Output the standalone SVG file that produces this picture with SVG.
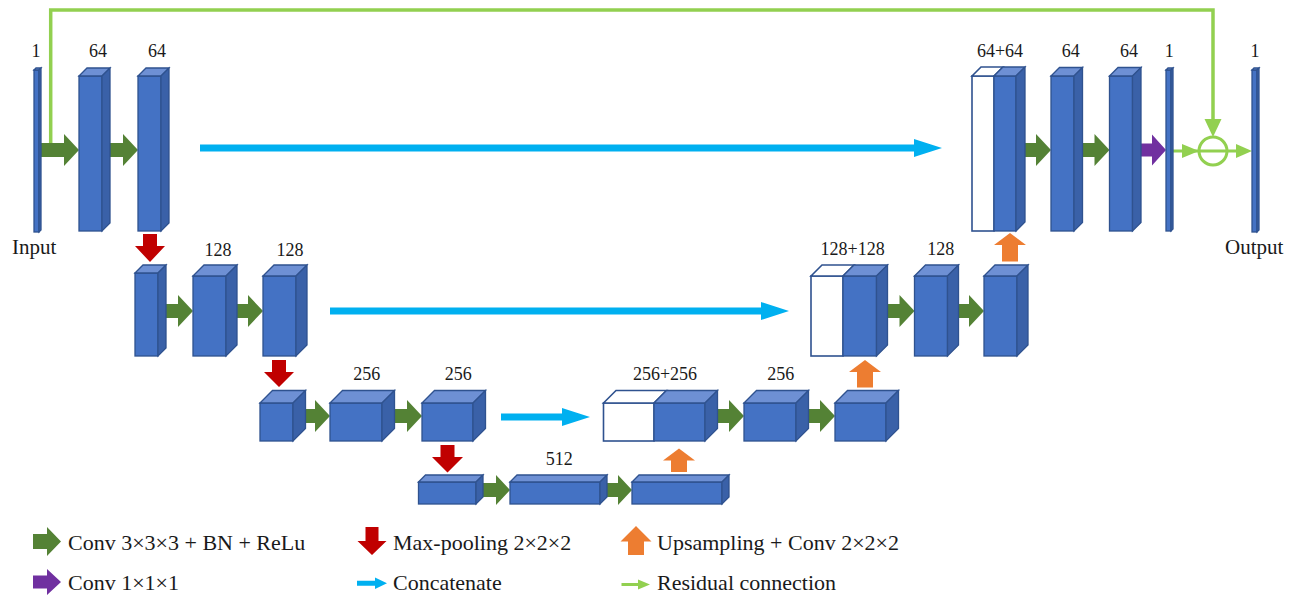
<svg xmlns="http://www.w3.org/2000/svg" width="1295" height="597" viewBox="0 0 1295 597" font-family="'Liberation Serif', 'Times New Roman', 'DejaVu Serif', serif">
<style>
.f{fill:#4472C4;stroke:#2F528F;stroke-width:1.3}
.t{fill:#6E90D4;stroke:#2F528F;stroke-width:1.3}
.s{fill:#3A61A8;stroke:#2F528F;stroke-width:1.3}
.w{fill:#FFFFFF;stroke:#2F528F;stroke-width:1.6}
.g{fill:#548235}
.r{fill:#C00000}
.o{fill:#ED7D31}
.p{fill:#7030A0}
.c{fill:#00B0F0}
.lg{fill:#92D050}
.res{fill:none;stroke:#92D050;stroke-width:3.5}
.lab{font-family:'Liberation Serif','Times New Roman','DejaVu Serif',serif;font-size:18px;text-anchor:middle;fill:#1A1A1A}
.io{font-family:'Liberation Serif','Times New Roman','DejaVu Serif',serif;font-size:21px;fill:#1A1A1A}
.leg{font-family:'Liberation Serif','Times New Roman','DejaVu Serif',serif;font-size:22px;fill:#1A1A1A}
</style>

<g id="connectors">
  <polyline class="res" points="50.7,146 50.7,10 1213,10 1213,120"/>
  <polygon class="lg" points="1204.5,119 1221.5,119 1213,137"/>
  <line x1="1173" y1="151" x2="1240" y2="151" stroke="#92D050" stroke-width="3"/>
  <polygon class="lg" points="1182,144 1199,151 1182,158"/>
  <polygon class="lg" points="1236,144 1252,151 1236,158"/>
  <circle cx="1213" cy="151" r="14" fill="none" stroke="#92D050" stroke-width="3"/>

  <path class="g" d="M39,143 H64 V134 L79,150 L64,166 V157 H39 Z"/>
  <path class="g" d="M110,143 H123 V134 L138,150 L123,166 V157 H110 Z"/>
  <path class="g" d="M1025,143 H1036 V134 L1051,150 L1036,166 V157 H1025 Z"/>
  <path class="g" d="M1082.5,143 H1094.5 V134 L1109.5,150 L1094.5,166 V157 H1082.5 Z"/>
  <path class="p" d="M1141,143.5 H1152 V134.5 L1166,150 L1152,165.5 V156.5 H1141 Z"/>

  <path class="g" d="M166,304 H178 V295 L193,311 L178,327 V318 H166 Z"/>
  <path class="g" d="M237,304 H248 V295 L263,311 L248,327 V318 H237 Z"/>
  <path class="g" d="M887.5,304 H899.5 V295 L914.5,311 L899.5,327 V318 H887.5 Z"/>
  <path class="g" d="M958.5,304 H969 V295 L984,311 L969,327 V318 H958.5 Z"/>

  <path class="g" d="M305.5,409 H315 V400 L330,416 L315,432 V423 H305.5 Z"/>
  <path class="g" d="M394.5,409 H407 V400 L422,416 L407,432 V423 H394.5 Z"/>
  <path class="g" d="M717.5,409 H729 V400 L744,416 L729,432 V423 H717.5 Z"/>
  <path class="g" d="M808.5,409 H820 V400 L835,416 L820,432 V423 H808.5 Z"/>

  <path class="g" d="M483,483 H496 V475 L510,490 L496,505 V497 H483 Z"/>
  <path class="g" d="M607,483 H618 V475 L632,490 L618,505 V497 H607 Z"/>

  <path class="r" d="M143,234 H157 V246 H165 L150,262 L135,246 H143 Z"/>
  <path class="r" d="M272,360 H286 V372 H294 L279,387 L264,372 H272 Z"/>
  <path class="r" d="M440.5,445 H454.5 V457 H463 L447.5,472.5 L432,457 H440.5 Z"/>

  <path class="o" d="M679,448.5 L695,460.5 H687 V472 H671 V460.5 H663 Z"/>
  <path class="o" d="M865,360 L881,372 H873 V387.5 H857 V372 H849 Z"/>
  <path class="o" d="M1010,233 L1026,245 H1018 V261.5 H1002 V245 H994 Z"/>

  <path class="c" d="M200,144.5 H914 V139 L942,148 L914,157 V151.5 H200 Z"/>
  <path class="c" d="M330,307.5 H761 V302 L789,311 L761,320 V314.5 H330 Z"/>
  <path class="c" d="M501,413.5 H562 V408 L590,417 L562,426 V420.5 H501 Z"/>
</g>

<g id="input">
  <rect class="f" x="34" y="70" width="5" height="162"/>
  <polygon class="t" points="34,70 36,68 41,68 39,70"/>
  <polygon class="s" points="39,70 41,68 41,230 39,232"/>
  <text class="lab" x="36" y="57">1</text>
  <text class="io" x="12" y="254">Input</text>
</g>
<g id="enc1a">
  <rect class="f" x="79" y="76" width="23" height="155"/>
  <polygon class="t" points="79,76 87,68 110,68 102,76"/>
  <polygon class="s" points="102,76 110,68 110,223 102,231"/>
  <text class="lab" x="98" y="57">64</text>
</g>
<g id="enc1b">
  <rect class="f" x="138" y="76" width="23" height="155"/>
  <polygon class="t" points="138,76 146,68 169,68 161,76"/>
  <polygon class="s" points="161,76 169,68 169,223 161,231"/>
  <text class="lab" x="157" y="57">64</text>
</g>

<g id="enc2a">
  <rect class="f" x="135" y="273" width="23" height="83"/>
  <polygon class="t" points="135,273 143,265 166,265 158,273"/>
  <polygon class="s" points="158,273 166,265 166,348 158,356"/>
</g>
<g id="enc2b">
  <rect class="f" x="193" y="276" width="33" height="80"/>
  <polygon class="t" points="193,276 204,265 237,265 226,276"/>
  <polygon class="s" points="226,276 237,265 237,345 226,356"/>
  <text class="lab" x="218" y="256">128</text>
</g>
<g id="enc2c">
  <rect class="f" x="263" y="276" width="33" height="80"/>
  <polygon class="t" points="263,276 274,265 307,265 296,276"/>
  <polygon class="s" points="296,276 307,265 307,345 296,356"/>
  <text class="lab" x="290" y="256">128</text>
</g>

<g id="enc3a">
  <rect class="f" x="260" y="403" width="33" height="38"/>
  <polygon class="t" points="260,403 272.5,390.5 305.5,390.5 293,403"/>
  <polygon class="s" points="293,403 305.5,390.5 305.5,428.5 293,441"/>
</g>
<g id="enc3b">
  <rect class="f" x="330" y="403" width="52" height="38"/>
  <polygon class="t" points="330,403 342.5,390.5 394.5,390.5 382,403"/>
  <polygon class="s" points="382,403 394.5,390.5 394.5,428.5 382,441"/>
  <text class="lab" x="366.7" y="380">256</text>
</g>
<g id="enc3c">
  <rect class="f" x="422" y="403" width="51" height="38"/>
  <polygon class="t" points="422,403 434.5,390.5 485.5,390.5 473,403"/>
  <polygon class="s" points="473,403 485.5,390.5 485.5,428.5 473,441"/>
  <text class="lab" x="458.3" y="380">256</text>
</g>

<g id="bott1">
  <rect class="f" x="418.5" y="482" width="57.5" height="22"/>
  <polygon class="t" points="418.5,482 425.5,475 483,475 476,482"/>
  <polygon class="s" points="476,482 483,475 483,497 476,504"/>
</g>
<g id="bott2">
  <rect class="f" x="510" y="482" width="90" height="22"/>
  <polygon class="t" points="510,482 517,475 607,475 600,482"/>
  <polygon class="s" points="600,482 607,475 607,497 600,504"/>
  <text class="lab" x="559.3" y="465">512</text>
</g>
<g id="bott3">
  <rect class="f" x="632" y="482" width="90" height="22"/>
  <polygon class="t" points="632,482 639,475 729,475 722,482"/>
  <polygon class="s" points="722,482 729,475 729,497 722,504"/>
</g>

<g id="dec3a">
  <rect class="w" x="603.5" y="403" width="50.5" height="38"/>
  <polygon class="w" points="603.5,403 616,390.5 666.5,390.5 654,403"/>
  <rect class="f" x="654" y="403" width="51" height="38"/>
  <polygon class="t" points="654,403 666.5,390.5 717.5,390.5 705,403"/>
  <polygon class="s" points="705,403 717.5,390.5 717.5,428.5 705,441"/>
  <text class="lab" x="665" y="380">256+256</text>
</g>
<g id="dec3b">
  <rect class="f" x="744" y="403" width="52" height="38"/>
  <polygon class="t" points="744,403 756.5,390.5 808.5,390.5 796,403"/>
  <polygon class="s" points="796,403 808.5,390.5 808.5,428.5 796,441"/>
  <text class="lab" x="780.7" y="380">256</text>
</g>
<g id="dec3c">
  <rect class="f" x="835" y="403" width="51" height="38"/>
  <polygon class="t" points="835,403 847.5,390.5 898.5,390.5 886,403"/>
  <polygon class="s" points="886,403 898.5,390.5 898.5,428.5 886,441"/>
</g>

<g id="dec2a">
  <rect class="w" x="811" y="276" width="32" height="80"/>
  <polygon class="w" points="811,276 822,265 854,265 843,276"/>
  <rect class="f" x="843" y="276" width="33.5" height="80"/>
  <polygon class="t" points="843,276 854,265 887.5,265 876.5,276"/>
  <polygon class="s" points="876.5,276 887.5,265 887.5,345 876.5,356"/>
  <text class="lab" x="852.7" y="255">128+128</text>
</g>
<g id="dec2b">
  <rect class="f" x="914.5" y="276" width="33" height="80"/>
  <polygon class="t" points="914.5,276 925.5,265 958.5,265 947.5,276"/>
  <polygon class="s" points="947.5,276 958.5,265 958.5,345 947.5,356"/>
  <text class="lab" x="940.7" y="255">128</text>
</g>
<g id="dec2c">
  <rect class="f" x="984" y="276" width="33" height="80"/>
  <polygon class="t" points="984,276 995,265 1028,265 1017,276"/>
  <polygon class="s" points="1017,276 1028,265 1028,345 1017,356"/>
</g>

<g id="dec1a">
  <rect class="w" x="972" y="76" width="22" height="155"/>
  <polygon class="w" points="972,76 981,67 1003,67 994,76"/>
  <rect class="f" x="994" y="76" width="22" height="155"/>
  <polygon class="t" points="994,76 1003,67 1025,67 1016,76"/>
  <polygon class="s" points="1016,76 1025,67 1025,222 1016,231"/>
  <text class="lab" x="1000" y="57">64+64</text>
</g>
<g id="dec1b">
  <rect class="f" x="1051" y="76" width="23" height="155"/>
  <polygon class="t" points="1051,76 1059.5,67.5 1082.5,67.5 1074,76"/>
  <polygon class="s" points="1074,76 1082.5,67.5 1082.5,222.5 1074,231"/>
  <text class="lab" x="1070.7" y="57">64</text>
</g>
<g id="dec1c">
  <rect class="f" x="1109.5" y="76" width="23" height="155"/>
  <polygon class="t" points="1109.5,76 1118,67.5 1141,67.5 1132.5,76"/>
  <polygon class="s" points="1132.5,76 1141,67.5 1141,222.5 1132.5,231"/>
  <text class="lab" x="1129" y="57">64</text>
</g>
<g id="conv1">
  <rect class="f" x="1166" y="70" width="5" height="161"/>
  <polygon class="t" points="1166,70 1168,68 1173,68 1171,70"/>
  <polygon class="s" points="1171,70 1173,68 1173,229 1171,231"/>
  <text class="lab" x="1169.3" y="57">1</text>
</g>
<g id="output">
  <rect class="f" x="1252" y="70" width="5" height="162"/>
  <polygon class="t" points="1252,70 1254,68 1259,68 1257,70"/>
  <polygon class="s" points="1257,70 1259,68 1259,230 1257,232"/>
  <text class="lab" x="1255" y="57">1</text>
  <text class="io" x="1225" y="254">Output</text>
</g>

<g id="legend">
  <path class="g" d="M33,534 H47 V527 L61,541.5 L47,556 V549 H33 Z"/>
  <text class="leg" x="68" y="550">Conv 3×3×3 + BN + ReLu</text>
  <path class="r" d="M365.5,527 H378.5 V541 H386.5 L372,555 L357.5,541 H365.5 Z"/>
  <text class="leg" x="393" y="550">Max-pooling 2×2×2</text>
  <path class="o" d="M636,526 L651.5,541.5 H644 V555 H628 V541.5 H620.5 Z"/>
  <text class="leg" x="657" y="550">Upsampling + Conv 2×2×2</text>
  <path class="p" d="M33,575.5 H47 V569 L61,582 L47,595 V588.5 H33 Z"/>
  <text class="leg" x="68" y="590">Conv 1×1×1</text>
  <path class="c" d="M357,580.8 H375 V577.5 L387,583.3 L375,589 V585.8 H357 Z"/>
  <text class="leg" x="393" y="590">Concatenate</text>
  <path class="lg" d="M621.5,583 H638 V579.5 L650,584.5 L638,589.5 V586 H621.5 Z"/>
  <text class="leg" x="657" y="590">Residual connection</text>
</g>
</svg>
